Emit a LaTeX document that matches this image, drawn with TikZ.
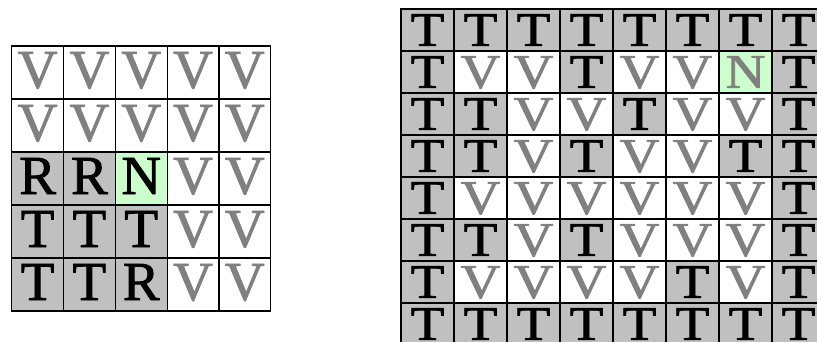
\documentclass[tikz,border=0pt]{standalone}
\usepackage{fontspec}
\setmainfont{Liberation Serif}
\newfontfamily\gridfont[FakeBold=1.5]{Liberation Serif}
\usepackage{tikz}
\definecolor{cellGray}{RGB}{192,192,192}
\definecolor{letterGray}{RGB}{128,128,128}
\definecolor{nodeGreen}{RGB}{204,255,204}
\newcommand{\squash}[1]{\scalebox{1}[0.88]{#1}}

\begin{document}
\begin{tikzpicture}[x=1pt,y=-1pt,
  cell/.style={draw=black,line width=1.2pt,inner sep=0pt,font=\gridfont\fontsize{55}{60}\selectfont},
  lcell/.style={cell,minimum width=51.8pt,minimum height=53pt,text depth=5pt},
  rcell/.style={cell,minimum width=53pt,minimum height=42pt,text depth=0pt},
  Vcell/.style={fill=white,text=letterGray},
  Tcell/.style={fill=cellGray,text=black},
  Rcell/.style={fill=cellGray,text=black},
  Ncell/.style={fill=nodeGreen,text=black}]
\clip (0,0) rectangle (817,342);
% left grid
\foreach \row [count=\i] in {{V,V,V,V,V},{V,V,V,V,V},{R,R,N,V,V},{T,T,T,V,V},{T,T,R,V,V}}
  \foreach \ch [count=\j] in \row
    \node[lcell,\ch cell] (l-\i-\j) at (11.7+51.8*\j-25.9, 46+53*\i-26.5) {\ch};
% right grid
\begin{scope}[Ncell/.append style={text=letterGray}]
\foreach \row [count=\i] in {{T,T,T,T,T,T,T,T},{T,V,V,T,V,V,N,T},{T,T,V,V,T,V,V,T},{T,T,V,T,V,V,T,T},
    {T,V,V,V,V,V,V,T},{T,T,V,T,V,V,V,T},{T,V,V,V,V,T,V,T},{T,T,T,T,T,T,T,T}}
  \foreach \ch [count=\j] in \row
    \node[rcell,\ch cell] (r-\i-\j) at (401+53*\j-26.5, 9+42*\i-21) {\squash{\ch}};
\end{scope}
\end{tikzpicture}
\end{document}
